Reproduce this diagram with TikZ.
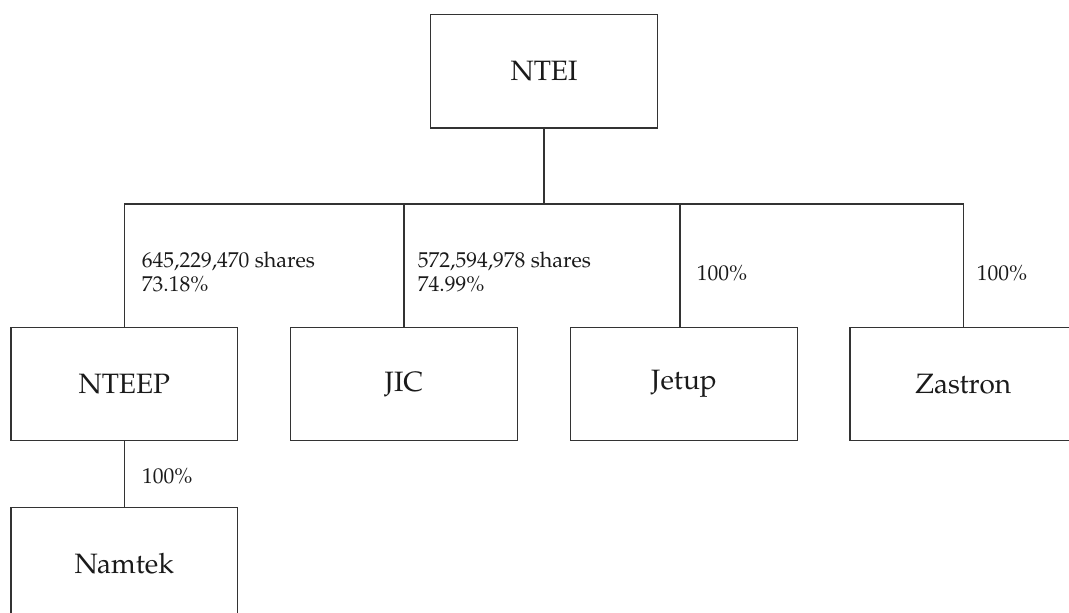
\documentclass[tikz,border=0pt]{standalone}
\usepackage{fontspec}
\setmainfont{TeX Gyre Pagella}
\begin{document}
\begin{tikzpicture}[x=1pt,y=-1pt,
  box/.style={draw=linecol,line width=1.2pt,minimum width=226.6pt,minimum height=113.3pt,inner sep=0pt,
    text=txtcol,font=\fontsize{28}{33}\selectfont},
  elabel/.style={anchor=base west,inner sep=0pt,align=left,text=txtcol,font=\fontsize{21.5}{24.7}\selectfont},
  conn/.style={draw=linecol,line width=1.2pt}]
\definecolor{linecol}{HTML}{333333}
\definecolor{txtcol}{HTML}{1A1A1A}
\useasboundingbox (0,0) rectangle (1069,613);
\clip (0,0) rectangle (1069,613);
\node[box] (ntei) at (544,71.3) {NTEI};
\node[box] (nteep) at (124.3,384) {NTEEP};
\node[box] (jic) at (404,384) {JIC};
\node[box] (jetup) at (684,384) {Jetup};
\node[box] (zastron) at (963.3,384) {Zastron};
\node[box] (namtek) at (124.3,564) {Namtek};
\coordinate (bus) at (544,204);
\draw[conn] (ntei.south) -- (bus);
\draw[conn] (nteep.north) |- (zastron.north |- bus) -- (zastron.north);
\draw[conn] (jic.north) -- (jic.north |- bus);
\draw[conn] ([xshift=-4pt]jetup.north) -- ([xshift=-4pt]jetup.north |- bus);
\draw[conn] (nteep.south) -- (namtek.north);
\node[elabel] (l1) at (141.7,291.7) {645,229,470 shares\\73.18\%};
\node[elabel] (l2) at (417.7,291.7) {572,594,978 shares\\74.99\%};
\node[elabel] (l3) at (696.7,280) {100\%};
\node[elabel] (l4) at (976.7,280) {100\%};
\node[elabel] (l5) at (142,483) {100\%};
\end{tikzpicture}
\end{document}
